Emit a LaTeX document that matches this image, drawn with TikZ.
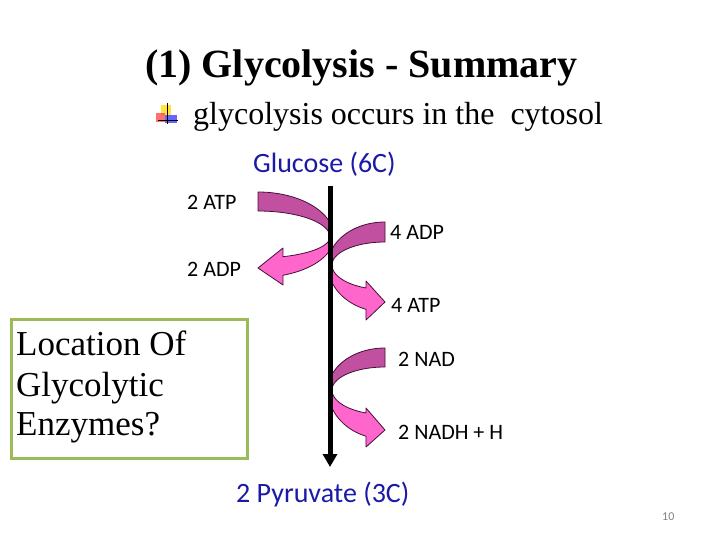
\documentclass[tikz,border=0pt]{standalone}
\usepackage{fontspec}
\setmainfont{Liberation Serif}
\newfontfamily\calibrifont{Carlito}
\usetikzlibrary{arrows.meta}
\definecolor{darkband}{RGB}{194,80,160}
\definecolor{lightband}{RGB}{255,102,204}
\definecolor{bandedge}{RGB}{70,15,55}
\definecolor{labelblue}{RGB}{26,26,166}
\definecolor{boxgreen}{RGB}{155,187,89}
\begin{document}
\begin{tikzpicture}[x=1pt,y=-1pt,
  txt/.style={inner sep=0pt,anchor=base west},
  lbl/.style={txt,font=\calibrifont\fontsize{22}{26}\selectfont},
  biglbl/.style={txt,font=\calibrifont\fontsize{28}{32}\selectfont,text=labelblue},
  topband/.style={fill=darkband,draw=bandedge,line width=0.8pt,line join=round},
  botband/.style={fill=lightband,draw=bandedge,line width=0.8pt,line join=round}]
\useasboundingbox (0,0) rectangle (720,540);
% title and bullet
\node[txt,font=\fontsize{40}{48}\selectfont\bfseries] (title) at (145,78) {(1) Glycolysis - Summary};
\fill[yellow!80!orange,opacity=0.8] (161,105) rectangle (171,115);
\fill[red!70,opacity=0.8] (156,113) rectangle (165,122);
\fill[blue!75,opacity=0.8] (165,115) rectangle (177,123);
\draw[line width=1pt] (167,103) -- (167,124);
\draw[line width=1pt] (158,121) -- (178,121);
\node[txt,font=\fontsize{32}{38}\selectfont] (bullet) at (193,125) {glycolysis occurs in the \ cytosol};
% labels
\node[biglbl] (glucose) at (253,173) {Glucose (6C)};
\node[biglbl] (pyruvate) at (236,502) {2 Pyruvate (3C)};
\node[lbl] (atp2) at (187,210) {2 ATP};
\node[lbl] (adp2) at (187,276) {2 ADP};
\node[lbl] (adp4) at (390,240) {4 ADP};
\node[lbl] (atp4) at (391,312) {4 ATP};
\node[lbl] (nad) at (398,366) {2 NAD};
\node[lbl] (nadh) at (398,439) {2 NADH + H};
% left curved arrow (2 ATP -> 2 ADP)
\filldraw[botband] plot[domain=18.7:70.8,samples=40] ({258+76*cos(\x)},{237+40.5*sin(\x)})
  -- (283,285) -- (258,268) -- (283,248)
  -- plot[domain=69.7:0,samples=40] ({258+72*cos(\x)},{237+21*sin(\x)}) -- cycle;
\filldraw[topband] plot[domain=-90:-18.7,samples=40] ({258+76*cos(\x)},{237+45*sin(\x)})
  -- plot[domain=0:-90,samples=40] ({258+72*cos(\x)},{237+26*sin(\x)}) -- cycle;
% right curved arrow 1 (4 ADP -> 4 ATP)
\filldraw[botband] plot[domain=158.4:109.5,samples=40] ({385+57*cos(\x)},{265+47*sin(\x)})
  -- (366,320) -- (385,302) -- (366,281)
  -- plot[domain=111:180,samples=40] ({385+53*cos(\x)},{265+24.6*sin(\x)}) -- cycle;
\filldraw[topband] plot[domain=-90:-158.4,samples=40] ({385+57*cos(\x)},{265+43*sin(\x)})
  -- plot[domain=-180:-90,samples=40] ({385+53*cos(\x)},{265+23*sin(\x)}) -- cycle;
% right curved arrow 2 (2 NAD -> 2 NADH + H)
\filldraw[botband] plot[domain=158.4:109.5,samples=40] ({385+57*cos(\x)},{390+49*sin(\x)})
  -- (366,447) -- (385,430) -- (366,408)
  -- plot[domain=111:180,samples=40] ({385+53*cos(\x)},{390+24.6*sin(\x)}) -- cycle;
\filldraw[topband] plot[domain=-90:-158.4,samples=40] ({385+57*cos(\x)},{390+42*sin(\x)})
  -- plot[domain=-180:-90,samples=40] ({385+53*cos(\x)},{390+23*sin(\x)}) -- cycle;
% main vertical arrow
\coordinate (ltop) at (330,186);
\coordinate (lbot) at (330,467);
\draw[line width=5pt,-{Triangle[width=14pt,length=13pt]}] (ltop) -- (lbot);
% box
\node[draw=boxgreen,line width=3pt,minimum width=236pt,minimum height=139pt,anchor=north west,inner sep=0pt] (box) at (10,318) {};
\node[txt,font=\fontsize{35}{40}\selectfont] (loc) at (16,355) {Location Of};
\node[txt,font=\fontsize{35}{40}\selectfont] (glyc) at (16,396) {Glycolytic};
\node[txt,font=\fontsize{35}{40}\selectfont] (enz) at (16,435) {Enzymes?};
% page number
\node[txt,font=\calibrifont\fontsize{12}{14}\selectfont,text=gray] (pnum) at (662,520) {10};
\end{tikzpicture}
\end{document}
